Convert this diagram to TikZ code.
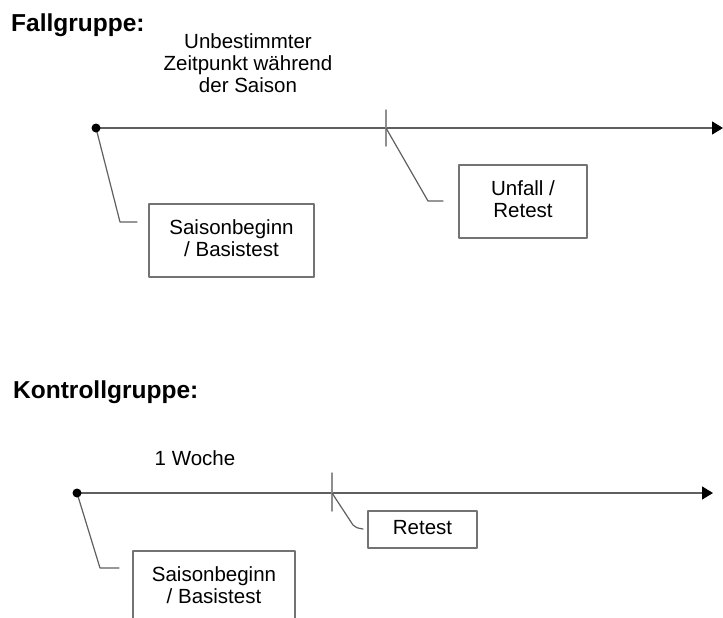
\documentclass[tikz,border=0pt]{standalone}
\usepackage{fontspec}
\setmainfont{Liberation Sans}
\usetikzlibrary{arrows.meta}
\definecolor{lineg}{RGB}{95,95,95}
\definecolor{boxg}{RGB}{115,115,115}
\tikzset{
  axis/.style={draw=lineg, line width=1.5pt},
  tickmark/.style={draw=boxg!80, line width=1.5pt},
  lead/.style={draw=lineg, line width=1.2pt},
  evbox/.style={draw=boxg, line width=1.5pt, align=center, inner sep=0pt, text depth=4pt},
  grp/.style={font=\fontsize{24.5}{28}\selectfont\bfseries, anchor=base west, inner sep=0pt}
}
\begin{document}
\begin{tikzpicture}[x=1pt, y=-1pt, font=\fontsize{20.5}{22}\selectfont, line join=round, line cap=round, >={Triangle[length=11pt,width=13pt,black]}]
			\clip (0,0) rectangle (723,618);
			\path
			(96,128) coordinate (A) (723,128) coordinate (A') (386,128) coordinate (T)
			(120,222) coordinate (Ak) (137,222) coordinate (Ae)
			(428,201) coordinate (Tk) (443,201) coordinate (Te)
			(77,493) coordinate (B) (713,493) coordinate (B') (332,493) coordinate (R)
			(100,568) coordinate (Bk) (119,568) coordinate (Be)
			(353,525) coordinate (Rk) (363,529) coordinate (Re);
			% Fallgruppe
			\node[grp] (fall) at (11,32) {Fallgruppe:};
			\node[align=center, anchor=north, inner sep=0pt] (zeit) at (248,33) {Unbestimmter\\Zeitpunkt während\\der Saison};
			\draw[axis,->] (A)--(A');
			\draw[tickmark] (T)++(0,-18)--++(0,36);
			\node[evbox, minimum width=165pt, minimum height=73pt] (start1) at (231.5,240.5) {Saisonbeginn\\/ Basistest};
			\node[evbox, minimum width=128pt, minimum height=73pt] (unfall) at (523,201.5) {Unfall /\\Retest};
			\draw[lead] (A)--(Ak)--(Ae) (T)--(Tk)--(Te);
			% Kontrollgruppe
			\node[grp] (kontr) at (13,398) {Kontrollgruppe:};
			\node[anchor=base, inner sep=0pt] (woche) at (195,465) {1 Woche};
			\draw[axis,->] (B)--(B');
			\draw[tickmark] (R)++(0,-20)--++(0,38);
			\node[evbox, minimum width=162pt, minimum height=73pt] (start2) at (214,587.5) {Saisonbeginn\\/ Basistest};
			\node[evbox, minimum width=109pt, minimum height=37pt] (retest) at (422.5,529.5) {Retest};
			\draw[lead] (B)--(Bk)--(Be) (R)--(Rk)..controls (357,528)..(Re);
			\foreach \p in {A,B} \fill[black] (\p) circle (4.5pt);
		\end{tikzpicture}
\end{document}
